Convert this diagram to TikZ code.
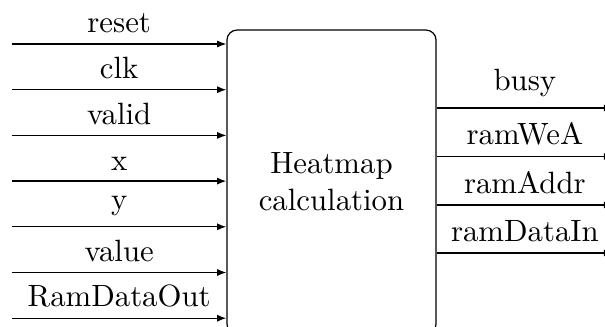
\documentclass[tikz,border=0pt]{standalone}
\usetikzlibrary{arrows.meta}
\begin{document}
\begin{tikzpicture}[x=0.3247pt, y=-0.3247pt,
  block/.style={draw, rounded corners=3.3pt, minimum width=67.9pt,
    minimum height=98.7pt, align=center, inner sep=0pt},
  sig/.style={-{Latex[length=3pt,width=2.3pt]}},
  lbl/.style={above}]
  \useasboundingbox (0,0) rectangle (605,326);
  \clip (0,0) rectangle (605,326);

  % processing block
  \node[block] (box) at (331.5,182) {Heatmap\\calculation};

  % input ports
  \coordinate (in1) at (12,44);
  \coordinate (in2) at (12,89.7);
  \coordinate (in3) at (12,135.4);
  \coordinate (in4) at (12,181.1);
  \coordinate (in5) at (12,226.8);
  \coordinate (in6) at (12,272.5);
  \coordinate (in7) at (12,318.2);
  \draw[sig] (in1) -- (in1 -| box.west) node[midway,lbl] {reset};
  \draw[sig] (in2) -- (in2 -| box.west) node[midway,lbl] {clk};
  \draw[sig] (in3) -- (in3 -| box.west) node[midway,lbl] {valid};
  \draw[sig] (in4) -- (in4 -| box.west) node[midway,lbl] {x};
  \draw[sig] (in5) -- (in5 -| box.west) node[midway,lbl] {y};
  \draw[sig] (in6) -- (in6 -| box.west) node[midway,lbl] {value};
  \draw[sig] (in7) -- (in7 -| box.west) node[midway,lbl] {RamDataOut};

  % output ports
  \coordinate (out1) at (613,108);
  \coordinate (out2) at (613,156.5);
  \coordinate (out3) at (613,205);
  \coordinate (out4) at (613,253);
  \draw[sig] (out1 -| box.east) -- (out1) node[midway,lbl] {busy};
  \draw[sig] (out2 -| box.east) -- (out2) node[midway,lbl] {ramWeA};
  \draw[sig] (out3 -| box.east) -- (out3) node[midway,lbl] {ramAddr};
  \draw[sig] (out4 -| box.east) -- (out4) node[midway,lbl] {ramDataIn};
\end{tikzpicture}
\end{document}
